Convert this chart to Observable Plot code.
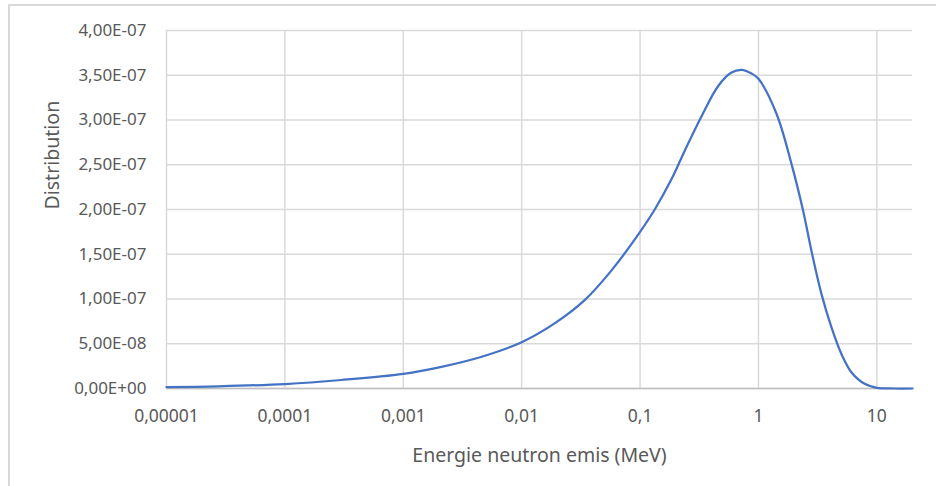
<!DOCTYPE html>
<html>
<head>
<meta charset="utf-8">
<script src="https://cdn.jsdelivr.net/npm/d3@7"></script>
<script src="https://cdn.jsdelivr.net/npm/@observablehq/plot@0.6"></script>
<style>
  html, body { margin: 0; padding: 0; background: #fff; }
  #wrap { position: relative; width: 936px; height: 486px; overflow: hidden; }
  #frame { position: absolute; left: 8px; top: 4px; width: 960px; height: 520px; border: 2px solid #d9d9d9; box-sizing: border-box; }
  #chart { position: absolute; left: 0; top: 0; }
</style>
</head>
<body>
<div id="wrap"><div id="frame"></div><div id="chart"></div></div>
<script>
// Energy of emitted neutron (MeV)
const energy = [1e-5, 2.75e-5, 1e-4, 3e-4, 1e-3, 2.1e-3, 4.6e-3, 0.01, 0.0191, 0.0342, 0.0574, 0.1, 0.133, 0.1845, 0.239, 0.33, 0.457, 0.592, 0.719, 0.873, 1.0, 1.42, 1.90, 2.38, 2.80, 3.40, 4.13, 5.01, 6.09, 7.89, 10, 14, 20];
// Distribution values
const distribution = [0.16e-8, 0.25e-8, 0.5e-8, 0.95e-8, 1.64e-8, 2.42e-8, 3.55e-8, 5.17e-8, 7.3e-8, 9.9e-8, 13.2e-8, 17.5e-8, 20.0e-8, 23.4e-8, 26.6e-8, 30.4e-8, 33.8e-8, 35.3e-8, 35.6e-8, 35.2e-8, 34.6e-8, 30.7e-8, 25.1e-8, 19.9e-8, 15.4e-8, 10.6e-8, 6.85e-8, 3.88e-8, 1.82e-8, 0.52e-8, 0.08e-8, 0.0, 0.0];

const xTicks = [1e-5, 1e-4, 1e-3, 1e-2, 1e-1, 1, 10];
const xTickLabels = ["0,00001", "0,0001", "0,001", "0,01", "0,1", "1", "10"];
const yTicks = [0, 0.5e-7, 1.0e-7, 1.5e-7, 2.0e-7, 2.5e-7, 3.0e-7, 3.5e-7, 4.0e-7];
const yTickLabels = ["0,00E+00", "5,00E-08", "1,00E-07", "1,50E-07", "2,00E-07", "2,50E-07", "3,00E-07", "3,50E-07", "4,00E-07"];
const xTitle = "Energie neutron emis (MeV)";
const yTitle = "Distribution";

const data = energy.map((e, i) => ({energy: e, value: distribution[i]}));

const font = "'Noto Sans', 'Open Sans', sans-serif";
const textColor = "#595959";

const chart = Plot.plot({
  width: 936,
  height: 486,
  marginLeft: 166,
  marginRight: 24,
  marginTop: 30,
  marginBottom: 98,
  style: {fontFamily: font, background: "transparent", overflow: "visible"},
  x: {type: "log", domain: [1e-5, 20]},
  y: {domain: [0, 4e-7]},
  marks: [
    Plot.gridX(xTicks, {stroke: "#d9d9d9", strokeOpacity: 1, strokeWidth: 1.5}),
    Plot.gridY(yTicks, {stroke: "#d9d9d9", strokeOpacity: 1, strokeWidth: 1.5}),
    Plot.ruleY([0], {stroke: "#bfbfbf", strokeWidth: 1.5}),
    Plot.line(data, {x: "energy", y: "value", stroke: "#4472C4", strokeWidth: 2.25, curve: "catmull-rom"}),
    Plot.axisX(xTicks, {
      tickSize: 0, tickPadding: 21, fontSize: 17.5, fill: textColor, label: null,
      tickFormat: (d) => xTickLabels[xTicks.indexOf(d)]
    }),
    Plot.axisY(yTicks, {
      tickSize: 0, tickPadding: 20, fontSize: 17, fill: textColor, label: null,
      tickFormat: (d) => yTickLabels[yTicks.indexOf(d)]
    }),
    Plot.text([xTitle], {frameAnchor: "bottom", dy: 67, text: (d) => d, fontSize: 19.5, fill: textColor, lineAnchor: "middle"}),
    Plot.text([yTitle], {frameAnchor: "left", dx: -114, rotate: -90, text: (d) => d, fontSize: 19.5, fill: textColor, lineAnchor: "middle"})
  ]
});
document.getElementById("chart").appendChild(chart);
</script>
</body>
</html>
